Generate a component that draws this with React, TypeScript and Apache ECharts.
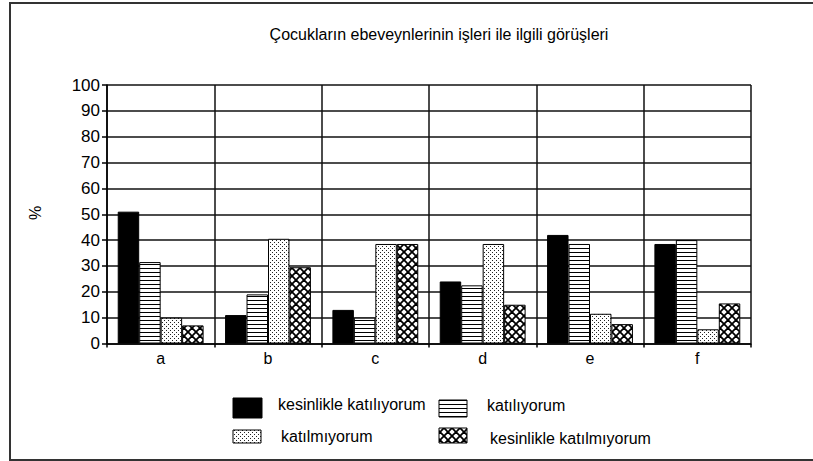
import React, { useEffect, useRef } from "react";
import * as echarts from "echarts";

const titleText = "Çocukların ebeveynlerinin işleri ile ilgili görüşleri";
const categories = ["a", "b", "c", "d", "e", "f"];
const seriesNames = [
  "kesinlikle katılıyorum",
  "katılıyorum",
  "katılmıyorum",
  "kesinlikle katılmıyorum",
];
const kesinlikleKatiliyorum = [51, 11, 13, 24, 42, 38.5];
const katiliyorum = [31.5, 19, 10, 22.5, 38.5, 40];
const katilmiyorum = [10, 40.5, 38.5, 38.5, 11.5, 5.5];
const kesinlikleKatilmiyorum = [7, 29.5, 38.5, 15, 7.5, 15.5];
const seriesValues = [kesinlikleKatiliyorum, katiliyorum, katilmiyorum, kesinlikleKatilmiyorum];
const yTicks = { min: 0, max: 100, interval: 10 };
const yName = "%";

const FONT = "'Liberation Sans', Arial, sans-serif";

function makeCanvas(size: number) {
  const c = document.createElement("canvas");
  c.width = size;
  c.height = size;
  const ctx = c.getContext("2d")!;
  ctx.fillStyle = "#fff";
  ctx.fillRect(0, 0, size, size);
  return { c, ctx };
}

function patternFor(kind: number): any {
  if (kind === 0) return "#000";
  if (kind === 1) {
    const { c, ctx } = makeCanvas(4);
    ctx.fillStyle = "#000";
    ctx.fillRect(0, 0, 4, 1);
    return { image: c, repeat: "repeat" };
  }
  if (kind === 2) {
    const { c, ctx } = makeCanvas(4);
    ctx.fillStyle = "#222";
    ctx.fillRect(0, 0, 1, 1);
    ctx.fillRect(2, 2, 1, 1);
    return { image: c, repeat: "repeat" };
  }
  const s = 8;
  const { c, ctx } = makeCanvas(s);
  ctx.strokeStyle = "#000";
  ctx.lineWidth = 1.8;
  for (const off of [-s, 0, s]) {
    ctx.beginPath();
    ctx.moveTo(-2 + off, -2);
    ctx.lineTo(s + 2 + off, s + 2);
    ctx.stroke();
    ctx.beginPath();
    ctx.moveTo(-2 + off, s + 2);
    ctx.lineTo(s + 2 + off, -2);
    ctx.stroke();
  }
  return { image: c, repeat: "repeat" };
}

export default function App() {
  const ref = useRef<HTMLDivElement>(null);
  useEffect(() => {
    if (!ref.current) return;
    const chart = echarts.init(ref.current, null, { renderer: "svg" });
    const fills = [0, 1, 2, 3].map(patternFor);

    const legendPos = [
      { rx: 233, ry: 398, rw: 29, rh: 20, tx: 278, ty: 404 },
      { rx: 439, ry: 400, rw: 28, rh: 17, tx: 487, ty: 405 },
      { rx: 233, ry: 430, rw: 28, rh: 13, tx: 281, ty: 436 },
      { rx: 439, ry: 428, rw: 28, rh: 15, tx: 490, ty: 438 },
    ];

    const graphics: any[] = [
      {
        type: "rect",
        shape: { x: 10, y: 3, width: 900, height: 457 },
        style: { fill: "none", stroke: "#333", lineWidth: 2 },
        silent: true,
      },
      {
        type: "text",
        x: 439,
        y: 34,
        style: {
          text: titleText,
          font: `16px ${FONT}`,
          fill: "#000",
          textAlign: "center",
          textVerticalAlign: "middle",
        },
      },
      {
        type: "text",
        x: 35,
        y: 213,
        rotation: Math.PI / 2,
        style: {
          text: yName,
          font: `16px ${FONT}`,
          fill: "#000",
          textAlign: "center",
          textVerticalAlign: "middle",
        },
      },
    ];
    seriesNames.forEach((name, i) => {
      const p = legendPos[i];
      graphics.push({
        type: "rect",
        shape: { x: p.rx, y: p.ry, width: p.rw, height: p.rh },
        style: { fill: fills[i], stroke: "#000", lineWidth: 1 },
      });
      graphics.push({
        type: "text",
        x: p.tx,
        y: p.ty,
        style: {
          text: name,
          font: `16px ${FONT}`,
          fill: "#000",
          textAlign: "left",
          textVerticalAlign: "middle",
        },
      });
    });

    chart.setOption({
      animation: false,
      backgroundColor: "#fff",
      grid: { left: 107, right: 62, top: 85, bottom: 117.5, containLabel: false },
      xAxis: {
        type: "category",
        data: categories,
        boundaryGap: true,
        axisLine: { show: true, lineStyle: { color: "#000", width: 1.5 } },
        axisTick: { show: true, length: 4, lineStyle: { color: "#000", width: 1.5 } },
        axisLabel: { fontSize: 16, color: "#000", margin: 7, fontFamily: FONT },
        splitLine: { show: true, lineStyle: { color: "#111", width: 1.5 } },
      },
      yAxis: {
        type: "value",
        min: yTicks.min,
        max: yTicks.max,
        interval: yTicks.interval,
        axisLine: { show: true, lineStyle: { color: "#000", width: 1.5 } },
        axisTick: { show: true, length: 5, lineStyle: { color: "#000", width: 1.5 } },
        axisLabel: { fontSize: 17, color: "#000", margin: 7, fontFamily: FONT },
        splitLine: { show: true, lineStyle: { color: "#111", width: 1.5 } },
      },
      series: seriesNames.map((name, i) => ({
        name,
        type: "bar",
        data: seriesValues[i],
        barGap: "0%",
        barCategoryGap: "20%",
        itemStyle: { color: fills[i], borderColor: "#000", borderWidth: 1 },
      })),
      graphic: graphics,
    });
    return () => chart.dispose();
  }, []);
  return (
    <div
      ref={ref}
      style={{ position: "fixed", left: 0, top: 0, width: 813, height: 461, background: "#fff" }}
    />
  );
}
